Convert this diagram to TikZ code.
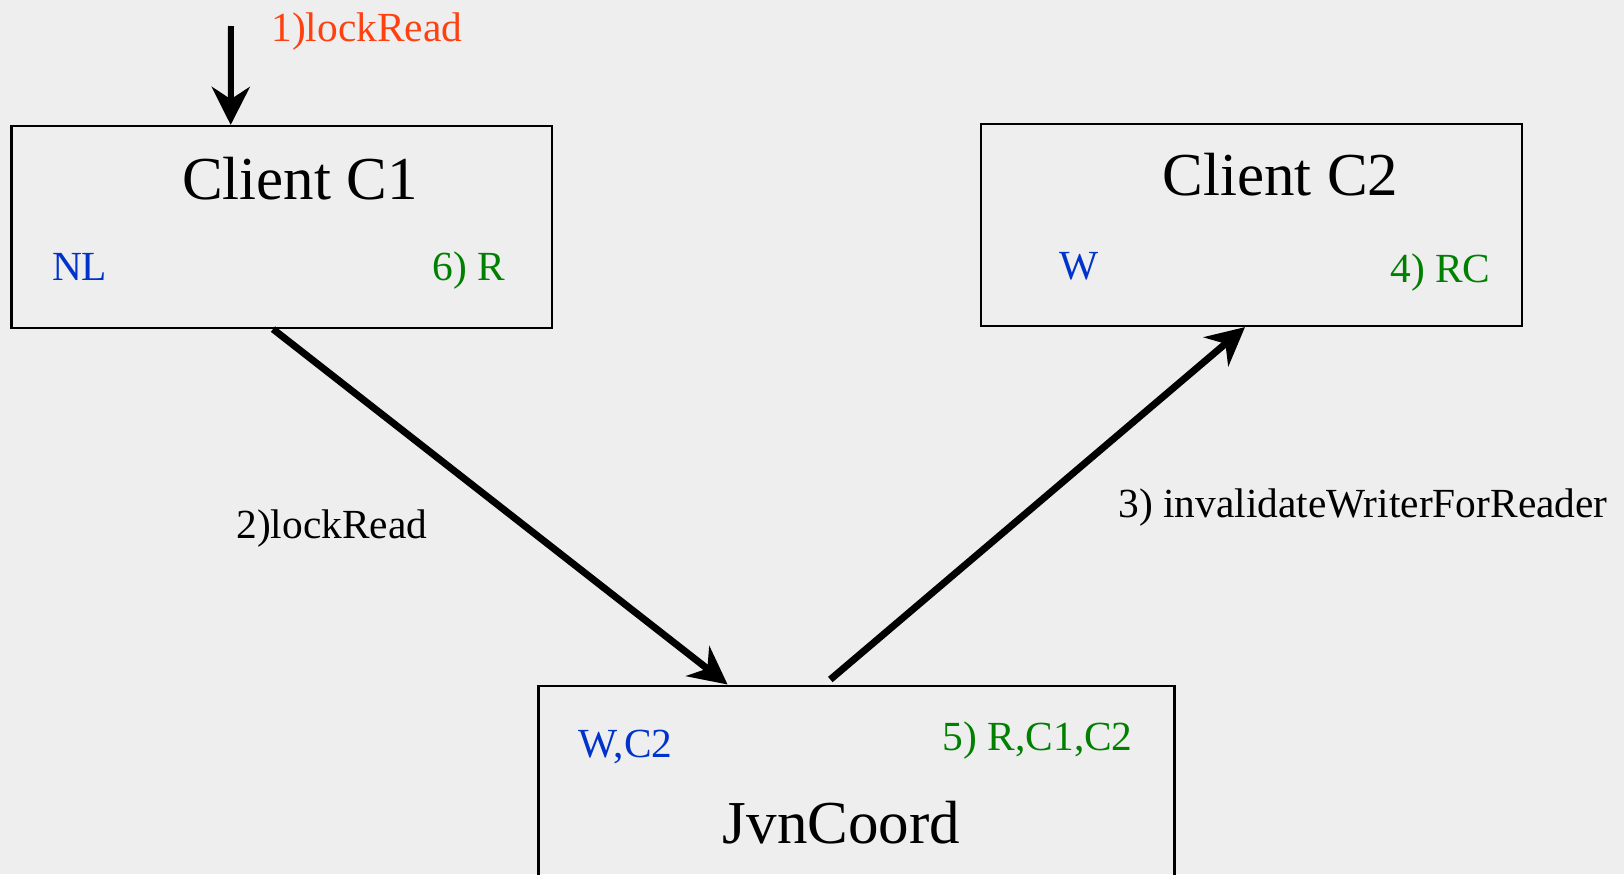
\documentclass[tikz,border=0pt]{standalone}
\usepackage{fontspec}
\setmainfont{Liberation Serif}
\usetikzlibrary{arrows.meta,calc}
\definecolor{bg}{RGB}{238,238,238}
\definecolor{lockred}{RGB}{255,64,16}
\definecolor{stateblue}{RGB}{0,51,204}
\definecolor{stepgreen}{RGB}{0,128,0}
\tikzset{
  box/.style={draw=black, line width=1.1pt, inner sep=0pt, rectangle},
  title/.style={font=\fontsize{30.5}{36}\selectfont, inner sep=0pt, anchor=base},
  lbl/.style={font=\fontsize{20.7}{25}\selectfont, inner sep=0pt, anchor=base west},
  flow/.style={line width=3pt, -{Stealth[length=19pt,width=19pt]}},
  bigflow/.style={flow, line width=3.5pt},
}
\begin{document}
\begin{tikzpicture}[x=0.5pt,y=-0.5pt]
  \fill[bg] (0,0) rectangle (1624,874);
  \useasboundingbox (0,0) rectangle (1624,874);
  \clip (0,0) rectangle (1624,874);

  % boxes
  \node[box, minimum width=270.3pt, minimum height=101pt] (c1) at (281.7,227) {};
  \node[box, minimum width=270.5pt, minimum height=101pt] (c2) at (1251.5,225) {};
  \node[box, minimum width=318pt, minimum height=137.2pt] (jvn) at (856.5,822.8) {};

  % titles
  \node[title] (c1t) at (300,199) {Client C1};
  \node[title] (c2t) at (1280.5,195) {Client C2};
  \node[title] (jvnt) at (841.4,843) {JvnCoord};

  % states
  \node[lbl, text=stateblue] (c1s) at (51.7,280) {NL};
  \node[lbl, text=stepgreen] (c1g) at (432.5,280) {6) R};
  \node[lbl, text=stateblue] (c2s) at (1059,279) {W};
  \node[lbl, text=stepgreen] (c2g) at (1390,282) {4) RC};
  \node[lbl, text=stateblue] (jvns) at (578,757) {W,C2};
  \node[lbl, text=stepgreen] (jvng) at (942.5,750) {5) R,C1,C2};

  % calls
  \node[lbl, text=lockred] (m1) at (271,41) {1)lockRead};
  \node[lbl] (m2) at (236,538.6) {2)lockRead};
  \node[lbl] (m3) at (1118,517) {3) invalidateWriterForReader};

  % connectors
  \coordinate (in) at (231,26);
  \draw[flow] (in) -- ($(c1.north west)!0.406!(c1.north east)$);
  \draw[bigflow] ($(c1.south west)!0.484!(c1.south east)$) -- ($(jvn.north west)!0.298!(jvn.north east)$);
  \draw[bigflow] ($(jvn.north west)!0.459!(jvn.north east)+(0,-5)$) -- ($(c2.south west)!0.488!(c2.south east)$);
\end{tikzpicture}
\end{document}
